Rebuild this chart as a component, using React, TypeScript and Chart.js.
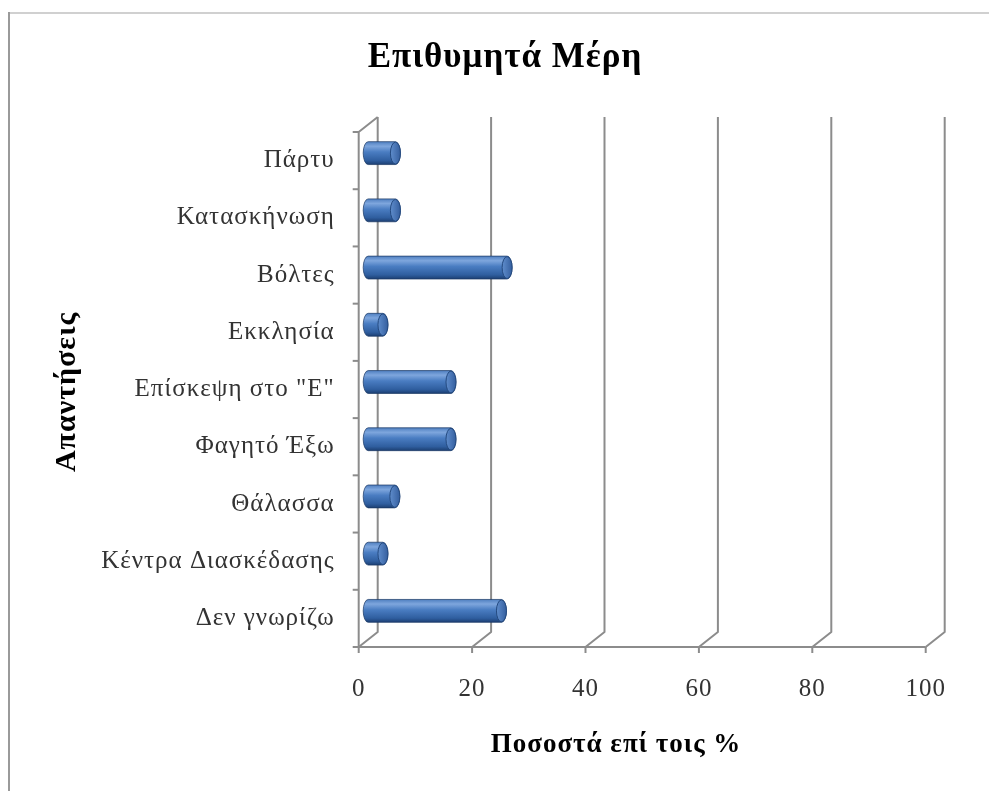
import React, { useEffect, useRef } from 'react';
import { Chart, registerables } from 'chart.js';

Chart.register(...registerables);

const categories = [
  'Πάρτυ',
  'Κατασκήνωση',
  'Βόλτες',
  'Εκκλησία',
  'Επίσκεψη στο "Ε"',
  'Φαγητό Έξω',
  'Θάλασσα',
  'Κέντρα Διασκέδασης',
  'Δεν γνωρίζω',
];
const values = [4.8, 4.8, 24.5, 2.6, 14.6, 14.6, 4.7, 2.6, 23.5];
const xTicks = [0, 20, 40, 60, 80, 100];
const chartTitle = 'Επιθυμητά Μέρη';
const xTitle = 'Ποσοστά επί τοις %';
const yTitle = 'Απαντήσεις';

const FONT = '"Liberation Serif", "DejaVu Serif", serif';
const DX = 19;
const DY = -15;
const SPACING = '1px';

export default function App() {
  const ref = useRef<HTMLCanvasElement>(null);

  useEffect(() => {
    document.body.style.margin = '0';
    const canvas = ref.current;
    if (!canvas) return;

    const setSpacing = (chart: any) => {
      const ctx: any = chart.ctx;
      if (ctx && 'letterSpacing' in ctx) ctx.letterSpacing = SPACING;
    };

    const grid3d = {
      id: 'grid3d',
      beforeUpdate: setSpacing,
      beforeLayout: setSpacing,
      beforeDraw: setSpacing,
      beforeDatasetsDraw(chart: any) {
        const { ctx, chartArea } = chart;
        const { left, right, top, bottom } = chartArea;
        const xs = chart.scales.x;
        const ys = chart.scales.y;
        ctx.save();
        ctx.strokeStyle = '#8c8c8c';
        ctx.lineWidth = 2;
        ctx.lineJoin = 'round';
        xTicks.forEach((v) => {
          const X = xs.getPixelForValue(v);
          ctx.beginPath();
          ctx.moveTo(X + DX, top + DY);
          ctx.lineTo(X + DX, bottom + DY);
          ctx.lineTo(X, bottom);
          ctx.stroke();
        });
        ctx.beginPath();
        ctx.moveTo(left, bottom);
        ctx.lineTo(left, top);
        ctx.lineTo(left + DX, top + DY);
        ctx.stroke();
        const n = categories.length;
        const step = (bottom - top) / n;
        for (let i = 0; i <= n; i++) {
          const c = i < n ? ys.getPixelForValue(i) - step / 2 : ys.getPixelForValue(n - 1) + step / 2;
          ctx.beginPath();
          ctx.moveTo(left - 6, c);
          ctx.lineTo(left, c);
          ctx.stroke();
        }
        ctx.beginPath();
        ctx.moveTo(left - 5, bottom);
        ctx.lineTo(right, bottom);
        ctx.stroke();
        xTicks.forEach((v) => {
          const X = xs.getPixelForValue(v);
          ctx.beginPath();
          ctx.moveTo(X, bottom);
          ctx.lineTo(X, bottom + 6);
          ctx.stroke();
        });
        ctx.restore();
      },
      beforeDatasetDraw(chart: any, args: any) {
        const { ctx } = chart;
        const meta = chart.getDatasetMeta(args.index);
        ctx.save();
        meta.data.forEach((el: any) => {
          const p = el.getProps(['x', 'y', 'base', 'height'], true);
          const ry = p.height / 2;
          const rx = 5;
          const cy = p.y + DY / 2;
          const x0 = Math.min(p.base, p.x) + DX / 2;
          const x1 = Math.max(p.base, p.x) + DX / 2;
          const g = ctx.createLinearGradient(0, cy - ry, 0, cy + ry);
          g.addColorStop(0, '#4f7fc0');
          g.addColorStop(0.2, '#7ea6dd');
          g.addColorStop(0.45, '#4a7dc2');
          g.addColorStop(0.82, '#2f5e9f');
          g.addColorStop(1, '#1c3f72');
          ctx.beginPath();
          ctx.moveTo(x0, cy - ry);
          ctx.lineTo(x1, cy - ry);
          ctx.ellipse(x1, cy, rx, ry, 0, -Math.PI / 2, Math.PI / 2);
          ctx.lineTo(x0, cy + ry);
          ctx.ellipse(x0, cy, rx, ry, 0, Math.PI / 2, (3 * Math.PI) / 2);
          ctx.closePath();
          ctx.fillStyle = g;
          ctx.fill();
          ctx.strokeStyle = 'rgba(25,55,100,0.7)';
          ctx.lineWidth = 1;
          ctx.stroke();
          const gc = ctx.createLinearGradient(x1 - rx, 0, x1 + rx, 0);
          gc.addColorStop(0, '#5f8dcc');
          gc.addColorStop(1, '#355f9f');
          ctx.beginPath();
          ctx.ellipse(x1, cy, rx, ry - 0.5, 0, 0, Math.PI * 2);
          ctx.fillStyle = gc;
          ctx.fill();
          ctx.strokeStyle = '#244a80';
          ctx.stroke();
        });
        ctx.restore();
        return false;
      },
      afterDraw(chart: any) {
        const { ctx } = chart;
        ctx.save();
        ctx.strokeStyle = '#d0d0d0';
        ctx.lineWidth = 2;
        ctx.beginPath();
        ctx.moveTo(9, 13);
        ctx.lineTo(989, 13);
        ctx.stroke();
        ctx.strokeStyle = '#9a9a9a';
        ctx.beginPath();
        ctx.moveTo(9, 12);
        ctx.lineTo(9, 791);
        ctx.stroke();
        ctx.fillStyle = '#000';
        ctx.textAlign = 'center';
        ctx.textBaseline = 'middle';
        if ('letterSpacing' in ctx) (ctx as any).letterSpacing = '1px';
        ctx.font = `bold 35px ${FONT}`;
        ctx.fillText(chartTitle, 505, 58);
        ctx.font = `bold 27px ${FONT}`;
        ctx.fillText(xTitle, 616, 745);
        ctx.translate(67, 392);
        ctx.rotate(-Math.PI / 2);
        ctx.font = `bold 30px ${FONT}`;
        ctx.fillText(yTitle, 0, 0);
        ctx.restore();
      },
    };

    const chart = new Chart(canvas, {
      type: 'bar',
      data: {
        labels: categories,
        datasets: [
          {
            data: values,
            backgroundColor: '#4f81bd',
            barPercentage: 0.4,
            categoryPercentage: 1,
          },
        ],
      },
      options: {
        indexAxis: 'y',
        animation: false,
        responsive: false,
        layout: { padding: { top: 132, right: 989 - 925.7, bottom: 84, left: 0 } },
        scales: {
          x: {
            min: 0,
            max: 100,
            afterBuildTicks: (s: any) => {
              s.ticks = xTicks.map((v) => ({ value: v }));
            },
            grid: { display: false },
            border: { display: false },
            ticks: { padding: 19, color: '#333', font: { family: FONT, size: 25 } },
            afterFit: (s: any) => {
              s.height = 60;
            },
          },
          y: {
            grid: { display: false },
            border: { display: false },
            ticks: { padding: 16, color: '#333', font: { family: FONT, size: 25 } },
            afterFit: (s: any) => {
              s.width = 358.7;
            },
          },
        },
        plugins: {
          legend: { display: false },
          tooltip: { enabled: false },
          title: { display: false },
        },
      },
      plugins: [grid3d],
    });

    return () => chart.destroy();
  }, []);

  return (
    <div style={{ width: 989, height: 791 }}>
      <canvas ref={ref} width={989} height={791} style={{ display: 'block' }} />
    </div>
  );
}
